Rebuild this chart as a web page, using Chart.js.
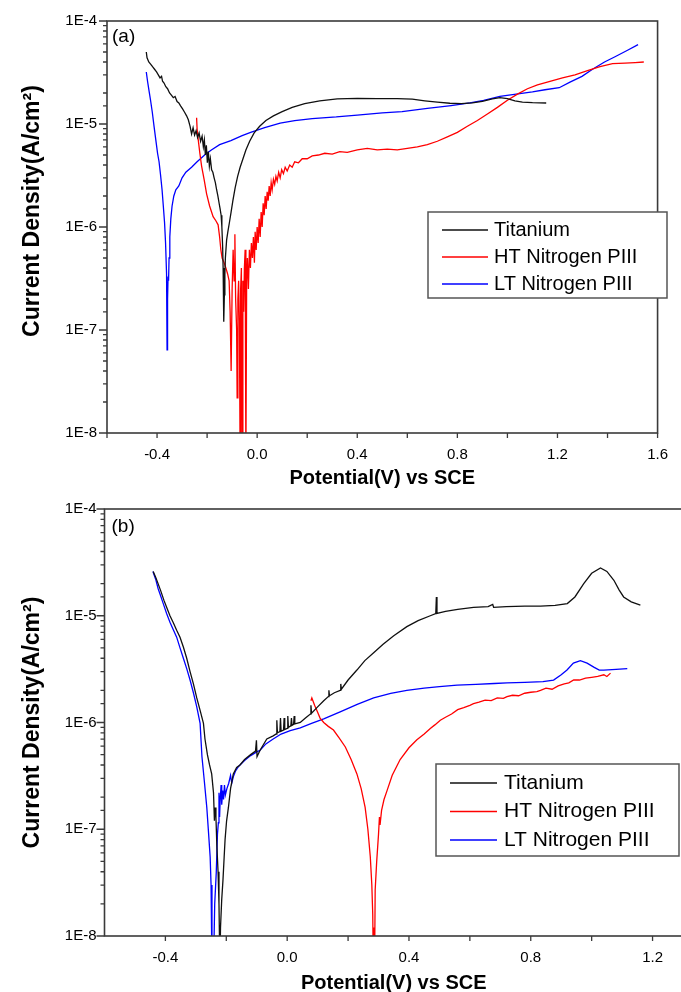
<!DOCTYPE html>
<html><head><meta charset="utf-8">
<script src="https://cdn.jsdelivr.net/npm/chart.js@4.4.0/dist/chart.umd.min.js"></script>
<style>
html,body{margin:0;padding:0;background:#fff;overflow:hidden;width:681px;height:992px;}
#wa{position:absolute;left:0;top:0;width:681px;height:490px;}
#wb{position:absolute;left:0;top:490px;width:690px;height:502px;}
canvas{display:block;}
</style></head><body>
<div id="wa"><canvas id="ca" width="681" height="490"></canvas></div>
<div id="wb"><canvas id="cb" width="690" height="502"></canvas></div>
<script>
// ---------- DATA ----------
const seriesNames = ['Titanium', 'HT Nitrogen PIII', 'LT Nitrogen PIII'];
const panelLabels = ['(a)', '(b)'];
const xTickValues = [-0.4, 0.0, 0.4, 0.8, 1.2, 1.6];
const xTickLabels = ['-0.4', '0.0', '0.4', '0.8', '1.2', '1.6'];
const yTickValues = [1e-8, 1e-7, 1e-6, 1e-5, 1e-4];
const yTickLabels = ['1E-8', '1E-7', '1E-6', '1E-5', '1E-4'];
const xAxisTitle = 'Potential(V) vs SCE';
const yAxisTitle = 'Current Density(A/cm²)';

// Panel (a) Titanium
const tiA_x = [-0.443,-0.440,-0.433,-0.425,-0.418,-0.410,-0.402,-0.395,-0.388,-0.382,-0.378,-0.372,-0.365,-0.358,-0.350,-0.342,-0.335,-0.328,-0.320,-0.313,-0.306,-0.298,-0.290,-0.282,-0.275,-0.268,-0.262,-0.256,-0.250,-0.244,-0.238,-0.232,-0.226,-0.220,-0.215,-0.211,-0.207,-0.203,-0.199,-0.195,-0.191,-0.187,-0.182,-0.177,-0.172,-0.167,-0.162,-0.157,-0.152,-0.148,-0.144,-0.141,-0.138,-0.136,-0.134,-0.133,-0.131,-0.129,-0.127,-0.122,-0.117,-0.111,-0.104,-0.097,-0.088,-0.078,-0.068,-0.058,-0.045,-0.030,-0.012,0.010,0.035,0.065,0.100,0.140,0.190,0.250,0.320,0.400,0.480,0.560,0.620,0.670,0.720,0.770,0.815,0.860,0.900,0.940,0.970,1.000,1.030,1.060,1.100,1.155];
const tiA_y = [5.0e-5,4.4e-5,4.0e-5,3.8e-5,3.6e-5,3.4e-5,3.2e-5,3.0e-5,2.8e-5,2.9e-5,2.6e-5,2.5e-5,2.3e-5,2.2e-5,2.0e-5,1.9e-5,1.8e-5,1.85e-5,1.65e-5,1.6e-5,1.5e-5,1.4e-5,1.3e-5,1.2e-5,1.1e-5,9.5e-6,8.0e-6,9.2e-6,7.8e-6,8.6e-6,7.4e-6,8.2e-6,6.8e-6,7.6e-6,6.0e-6,7.0e-6,5.0e-6,6.2e-6,4.2e-6,5.4e-6,3.9e-6,4.6e-6,3.6e-6,3.4e-6,3.0e-6,2.7e-6,2.3e-6,2.0e-6,1.7e-6,1.5e-6,1.3e-6,1.0e-6,6.5e-7,4.0e-7,2.0e-7,1.2e-7,2.2e-7,3.5e-7,5.0e-7,7.5e-7,9.0e-7,1.1e-6,1.4e-6,1.8e-6,2.4e-6,3.1e-6,3.8e-6,4.5e-6,5.6e-6,6.8e-6,8.2e-6,9.5e-6,1.08e-5,1.2e-5,1.32e-5,1.45e-5,1.58e-5,1.68e-5,1.75e-5,1.77e-5,1.76e-5,1.76e-5,1.74e-5,1.68e-5,1.63e-5,1.59e-5,1.58e-5,1.6e-5,1.66e-5,1.75e-5,1.8e-5,1.76e-5,1.68e-5,1.63e-5,1.61e-5,1.6e-5];

// Panel (a) HT Nitrogen PIII
const htA_x = [-0.242,-0.240,-0.235,-0.229,-0.222,-0.212,-0.202,-0.190,-0.176,-0.165,-0.156,-0.150,-0.145,-0.140,-0.132,-0.125,-0.118,-0.112,-0.108,-0.104,-0.100,-0.096,-0.092,-0.089,-0.086,-0.082,-0.080,-0.077,-0.074,-0.071,-0.068,-0.066,-0.063,-0.060,-0.057,-0.054,-0.051,-0.048,-0.045,-0.042,-0.039,-0.035,-0.031,-0.027,-0.023,-0.019,-0.015,-0.011,-0.008,-0.004,0.000,0.004,0.008,0.012,0.016,0.020,0.024,0.028,0.032,0.036,0.040,0.044,0.048,0.052,0.056,0.060,0.065,0.070,0.075,0.080,0.086,0.092,0.098,0.105,0.112,0.120,0.130,0.140,0.150,0.165,0.180,0.200,0.220,0.245,0.270,0.300,0.330,0.360,0.400,0.440,0.480,0.520,0.560,0.600,0.640,0.680,0.720,0.760,0.800,0.840,0.880,0.920,0.960,1.000,1.040,1.080,1.120,1.170,1.220,1.270,1.320,1.370,1.420,1.470,1.510,1.545];
const htA_y = [1.15e-5,9e-6,6.9e-6,5.2e-6,3.9e-6,2.9e-6,2.1e-6,1.6e-6,1.26e-6,1.15e-6,1.05e-6,8e-7,6e-7,5e-7,4.5e-7,4e-7,3.5e-7,3e-7,1.5e-7,4e-8,2.5e-7,6e-7,3e-7,8.5e-7,2e-7,1e-7,2.2e-8,2e-7,3e-7,1.2e-7,5e-9,2.5e-7,4e-7,5e-9,3e-7,1.5e-7,4e-7,6e-7,5e-9,3e-7,5e-7,2.5e-7,6e-7,4e-7,7e-7,5e-7,8e-7,4.5e-7,9e-7,6e-7,1.0e-6,7e-7,1.2e-6,8e-7,1.4e-6,1.0e-6,1.7e-6,1.3e-6,2.0e-6,1.5e-6,2.2e-6,1.8e-6,2.5e-6,2.0e-6,2.7e-6,2.3e-6,2.9e-6,2.6e-6,3.1e-6,2.8e-6,3.4e-6,3.0e-6,3.6e-6,3.3e-6,3.8e-6,3.5e-6,4.0e-6,3.8e-6,4.3e-6,4.2e-6,4.6e-6,4.6e-6,4.9e-6,5.0e-6,5.2e-6,5.1e-6,5.4e-6,5.3e-6,5.6e-6,5.8e-6,5.6e-6,5.7e-6,5.6e-6,5.8e-6,6.0e-6,6.3e-6,6.8e-6,7.5e-6,8.3e-6,9.5e-6,1.08e-5,1.25e-5,1.45e-5,1.7e-5,1.95e-5,2.2e-5,2.4e-5,2.6e-5,2.8e-5,3.0e-5,3.3e-5,3.6e-5,3.85e-5,3.9e-5,3.95e-5,4.0e-5];

// Panel (a) LT Nitrogen PIII
const ltA_x = [-0.443,-0.438,-0.432,-0.426,-0.419,-0.412,-0.405,-0.398,-0.392,-0.386,-0.380,-0.375,-0.370,-0.366,-0.362,-0.360,-0.358,-0.356,-0.354,-0.352,-0.349,-0.345,-0.340,-0.333,-0.325,-0.313,-0.300,-0.285,-0.262,-0.240,-0.210,-0.183,-0.150,-0.105,-0.060,-0.026,0.030,0.092,0.150,0.220,0.316,0.400,0.500,0.579,0.680,0.775,0.850,0.905,0.970,1.035,1.100,1.150,1.207,1.250,1.298,1.340,1.388,1.430,1.480,1.522];
const ltA_y = [3.2e-5,2.6e-5,2.1e-5,1.7e-5,1.3e-5,9.5e-6,7e-6,5.2e-6,4.3e-6,3.2e-6,2.3e-6,1.6e-6,1.1e-6,7e-7,3.5e-7,6.4e-8,2e-7,3.3e-7,3e-7,5e-7,8e-7,1.2e-6,1.6e-6,2.0e-6,2.3e-6,2.5e-6,3.0e-6,3.4e-6,3.8e-6,4.3e-6,5.0e-6,5.6e-6,6.3e-6,6.9e-6,7.7e-6,8.3e-6,9.2e-6,1.02e-5,1.08e-5,1.13e-5,1.17e-5,1.22e-5,1.28e-5,1.32e-5,1.42e-5,1.51e-5,1.6e-5,1.7e-5,1.85e-5,1.95e-5,2.05e-5,2.15e-5,2.25e-5,2.55e-5,2.9e-5,3.4e-5,4.0e-5,4.5e-5,5.2e-5,5.9e-5];

// Panel (b) Titanium
const tiB_x = [-0.440,-0.432,-0.424,-0.415,-0.405,-0.396,-0.385,-0.374,-0.363,-0.352,-0.341,-0.330,-0.319,-0.308,-0.297,-0.286,-0.275,-0.270,-0.262,-0.255,-0.248,-0.242,-0.239,-0.237,-0.234,-0.231,-0.227,-0.224,-0.221,-0.219,-0.215,-0.211,-0.207,-0.204,-0.199,-0.193,-0.186,-0.177,-0.166,-0.155,-0.140,-0.120,-0.104,-0.101,-0.099,-0.089,-0.067,-0.046,-0.036,-0.034,-0.032,-0.024,-0.022,-0.020,-0.012,-0.010,-0.008,0.000,0.002,0.004,0.012,0.014,0.016,0.021,0.023,0.025,0.043,0.060,0.076,0.078,0.080,0.100,0.120,0.135,0.137,0.139,0.155,0.174,0.176,0.178,0.200,0.229,0.255,0.284,0.315,0.350,0.393,0.430,0.470,0.488,0.490,0.492,0.520,0.560,0.612,0.660,0.675,0.678,0.720,0.780,0.832,0.880,0.920,0.945,0.974,1.000,1.029,1.050,1.073,1.090,1.105,1.130,1.160];
const tiB_y = [2.6e-5,2.3e-5,2.0e-5,1.7e-5,1.4e-5,1.2e-5,1.0e-5,8.6e-6,7.3e-6,6.3e-6,5.1e-6,4.0e-6,3.0e-6,2.3e-6,1.7e-6,1.3e-6,9.8e-7,7.0e-7,5.0e-7,4.0e-7,3.3e-7,2.2e-7,1.2e-7,1.6e-7,1.3e-7,7e-8,4e-8,2e-8,5e-9,1.2e-8,2.2e-8,3.3e-8,5.5e-8,8e-8,1.2e-7,1.6e-7,2.4e-7,3.3e-7,3.8e-7,4.0e-7,4.5e-7,5.0e-7,5.4e-7,6.8e-7,4.8e-7,5.5e-7,7.0e-7,7.5e-7,7.8e-7,1.05e-6,8.0e-7,8.2e-7,1.1e-6,8.3e-7,8.5e-7,1.1e-6,8.6e-7,8.8e-7,1.15e-6,9.0e-7,9.3e-7,1.1e-6,9.4e-7,9.6e-7,1.15e-6,9.7e-7,1.0e-6,1.1e-6,1.2e-6,1.45e-6,1.22e-6,1.4e-6,1.6e-6,1.75e-6,2.0e-6,1.78e-6,1.9e-6,2.0e-6,2.3e-6,2.05e-6,2.5e-6,3.1e-6,3.8e-6,4.5e-6,5.4e-6,6.5e-6,7.9e-6,9.0e-6,1.0e-5,1.05e-5,1.5e-5,1.05e-5,1.1e-5,1.15e-5,1.2e-5,1.22e-5,1.28e-5,1.2e-5,1.22e-5,1.23e-5,1.23e-5,1.25e-5,1.3e-5,1.5e-5,2.0e-5,2.5e-5,2.8e-5,2.6e-5,2.15e-5,1.75e-5,1.5e-5,1.35e-5,1.26e-5];

// Panel (b) HT Nitrogen PIII
const htB_x = [0.078,0.081,0.090,0.100,0.108,0.120,0.135,0.152,0.170,0.191,0.210,0.229,0.243,0.256,0.265,0.273,0.278,0.281,0.283,0.285,0.287,0.289,0.294,0.300,0.303,0.305,0.310,0.318,0.328,0.345,0.371,0.400,0.426,0.450,0.470,0.485,0.503,0.520,0.540,0.560,0.580,0.600,0.612,0.630,0.650,0.670,0.690,0.710,0.722,0.740,0.760,0.780,0.800,0.820,0.832,0.850,0.870,0.890,0.910,0.925,0.941,0.960,0.980,1.000,1.020,1.040,1.050,1.062];
const htB_y = [1.6e-6,1.7e-6,1.45e-6,1.25e-6,1.1e-6,1.0e-6,9.2e-7,8.5e-7,7.2e-7,5.9e-7,4.5e-7,3.3e-7,2.4e-7,1.6e-7,1.0e-7,5.5e-8,3e-8,1.6e-8,5e-9,1.2e-8,5e-9,2.7e-8,5e-8,9e-8,1.3e-7,1.1e-7,1.5e-7,1.9e-7,2.3e-7,3.2e-7,4.5e-7,5.8e-7,6.9e-7,7.8e-7,8.8e-7,9.5e-7,1.05e-6,1.12e-6,1.2e-6,1.32e-6,1.38e-6,1.45e-6,1.5e-6,1.55e-6,1.62e-6,1.6e-6,1.7e-6,1.68e-6,1.75e-6,1.8e-6,1.78e-6,1.88e-6,1.92e-6,1.95e-6,2.0e-6,2.1e-6,2.05e-6,2.2e-6,2.3e-6,2.35e-6,2.5e-6,2.5e-6,2.6e-6,2.65e-6,2.7e-6,2.8e-6,2.7e-6,2.9e-6];

// Panel (b) LT Nitrogen PIII
const ltB_x = [-0.441,-0.432,-0.424,-0.416,-0.407,-0.396,-0.385,-0.374,-0.363,-0.352,-0.341,-0.330,-0.319,-0.308,-0.297,-0.286,-0.280,-0.272,-0.264,-0.258,-0.253,-0.250,-0.247,-0.244,-0.242,-0.238,-0.233,-0.229,-0.226,-0.224,-0.222,-0.220,-0.217,-0.215,-0.212,-0.209,-0.206,-0.203,-0.198,-0.192,-0.186,-0.182,-0.177,-0.170,-0.162,-0.155,-0.140,-0.120,-0.100,-0.089,-0.070,-0.046,-0.020,0.010,0.043,0.080,0.120,0.174,0.230,0.284,0.340,0.393,0.450,0.500,0.558,0.620,0.680,0.722,0.780,0.840,0.875,0.900,0.919,0.940,0.963,0.985,1.007,1.025,1.040,1.080,1.117];
const ltB_y = [2.6e-5,2.2e-5,1.8e-5,1.55e-5,1.3e-5,1.05e-5,8.7e-6,7.4e-6,6.3e-6,5.0e-6,4.0e-6,3.2e-6,2.5e-6,1.9e-6,1.4e-6,9.8e-7,4.8e-7,2.8e-7,1.6e-7,9e-8,5.5e-8,3e-8,5e-9,1e-8,5e-9,2e-8,3.9e-8,9e-8,1.15e-7,2.2e-7,1.3e-7,1.9e-7,2.6e-7,1.7e-7,2.3e-7,1.9e-7,2.6e-7,2.1e-7,2.4e-7,2.7e-7,3.2e-7,2.7e-7,3.1e-7,3.5e-7,3.8e-7,4.0e-7,4.4e-7,4.9e-7,5.3e-7,5.5e-7,6.3e-7,7.0e-7,7.8e-7,8.4e-7,8.9e-7,9.8e-7,1.08e-6,1.26e-6,1.48e-6,1.7e-6,1.87e-6,2.0e-6,2.1e-6,2.17e-6,2.24e-6,2.28e-6,2.32e-6,2.35e-6,2.38e-6,2.42e-6,2.5e-6,2.8e-6,3.1e-6,3.6e-6,3.8e-6,3.6e-6,3.3e-6,3.1e-6,3.1e-6,3.15e-6,3.2e-6];

// ---------- HELPERS ----------
const FONT = "'Liberation Sans', Arial, sans-serif";
Chart.defaults.font.family = FONT;
Chart.defaults.color = '#000';

function pts(xs, ys) { return xs.map((x, i) => ({x: x, y: ys[i]})); }
function isPow10(v) { const l = Math.log10(v); return Math.abs(l - Math.round(l)) < 1e-6; }

const colors = ['#101010', '#ff0000', '#0000ff'];

const decor = {
  id: 'decor',
  afterDraw(chart, args, o) {
    const ctx = chart.ctx, a = chart.chartArea, xs = chart.scales.x, ys = chart.scales.y;
    ctx.save();
    ctx.strokeStyle = '#3a3a3a'; ctx.lineWidth = 1.6;
    ctx.strokeRect(a.left, a.top, a.right - a.left, a.bottom - a.top);
    ctx.beginPath();
    xs.ticks.forEach(t => {
      const px = xs.getPixelForValue(t.value);
      ctx.moveTo(px, a.bottom); ctx.lineTo(px, a.bottom + 5);
    });
    ys.ticks.forEach(t => {
      const py = ys.getPixelForValue(t.value);
      const L = isPow10(t.value) ? 8 : 4;
      ctx.moveTo(a.left, py); ctx.lineTo(a.left - L, py);
    });
    ctx.lineWidth = 1.3; ctx.stroke();
    ctx.fillStyle = '#000'; ctx.textBaseline = 'middle'; ctx.textAlign = 'left';
    ctx.font = '19px ' + FONT;
    ctx.fillText(o.panel, a.left + o.panelDx, a.top + o.panelDy);
    const L = o.legend;
    ctx.fillStyle = '#fff'; ctx.fillRect(L.x, L.y, L.w, L.h);
    ctx.strokeStyle = '#555'; ctx.lineWidth = 1.5;
    ctx.strokeRect(L.x, L.y, L.w, L.h);
    ctx.font = L.size + 'px ' + FONT;
    chart.data.datasets.forEach((d, i) => {
      const y = L.row0 + i * L.dy;
      ctx.strokeStyle = d.borderColor; ctx.lineWidth = 1.5;
      ctx.beginPath(); ctx.moveTo(L.lx1, y); ctx.lineTo(L.lx2, y); ctx.stroke();
      ctx.fillStyle = '#000'; ctx.fillText(d.label, L.tx, y);
    });
    ctx.restore();
  }
};

function makeChart(id, data, cfg) {
  const datasets = data.map((s, i) => ({
    label: seriesNames[i], data: s, borderColor: colors[i], borderWidth: 1.3,
    pointRadius: 0, fill: false, tension: 0
  }));
  return new Chart(document.getElementById(id), {
    type: 'line',
    data: {datasets: datasets},
    plugins: [decor],
    options: {
      responsive: false, animation: false, devicePixelRatio: 1,
      layout: {padding: {left: 0, top: cfg.top, right: cfg.right, bottom: 0}},
      plugins: {legend: {display: false}, tooltip: {enabled: false}, decor: cfg.decor},
      scales: {
        x: {
          type: 'linear', min: -0.6, max: cfg.xmax,
          grid: {display: false, drawTicks: false}, border: {display: false},
          ticks: {
            stepSize: 0.2, includeBounds: false, autoSkip: false, maxRotation: 0,
            padding: 13, font: {size: 15}, color: '#000',
            callback: (v) => { const k = xTickValues.findIndex(t => Math.abs(t - v) < 1e-6); return k >= 0 ? xTickLabels[k] : ''; }
          },
          title: {display: true, text: xAxisTitle, color: '#000', font: {size: 20, weight: 'bold'}, padding: {top: 0, bottom: cfg.xTitlePad}},
          afterFit: (s) => { s.height = cfg.xh; }
        },
        y: {
          type: 'logarithmic', min: 1e-8, max: 1e-4,
          grid: {display: false, drawTicks: false}, border: {display: false},
          ticks: {
            autoSkip: false, padding: cfg.yPad, font: {size: 15}, color: '#000',
            callback: (v) => { const k = yTickValues.findIndex(t => Math.abs(Math.log10(t) - Math.log10(v)) < 1e-6); return k >= 0 ? yTickLabels[k] : ''; }
          },
          title: {display: true, text: cfg.yLead + yAxisTitle, color: '#000', font: {size: 23, weight: 'bold'}, padding: {top: 19, bottom: 0}},
          afterFit: (s) => { s.width = cfg.yw; }
        }
      }
    }
  });
}

makeChart('ca', [pts(tiA_x, tiA_y), pts(htA_x, htA_y), pts(ltA_x, ltA_y)], {
  top: 21, right: 14, xmax: 1.6, xh: 57, yw: 107, yPad: 10, xTitlePad: 0, yLead: '     ',
  decor: {panel: panelLabels[0], panelDx: 5, panelDy: 16,
    legend: {x: 428, y: 212, w: 239, h: 86, row0: 230, dy: 27, lx1: 442, lx2: 488, tx: 494, size: 20}}
});
makeChart('cb', [pts(tiB_x, tiB_y), pts(htB_x, htB_y), pts(ltB_x, ltB_y)], {
  top: 19, right: 7, xmax: 1.3, xh: 56, yw: 104.5, yPad: 8, xTitlePad: -3, yLead: '',
  decor: {panel: panelLabels[1], panelDx: 7, panelDy: 18,
    legend: {x: 436, y: 274, w: 243, h: 92, row0: 293, dy: 28.5, lx1: 450, lx2: 497, tx: 504, size: 21}}
});
</script>
</body></html>
